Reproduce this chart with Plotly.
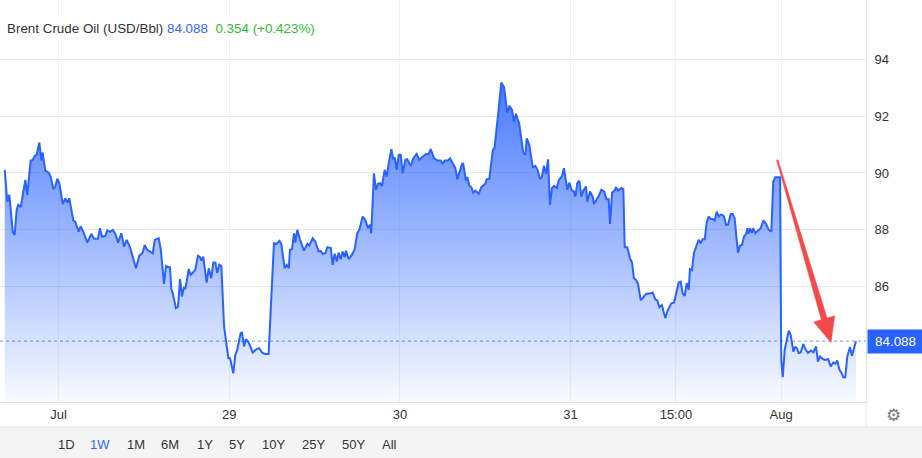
import plotly.graph_objects as go

# time in trading days from the "Jul" gridline; price in USD/Bbl
days = [-0.315, -0.300, -0.288, -0.268, -0.257, -0.245, -0.236, -0.221, -0.206, -0.194,
        -0.183, -0.163, -0.151, -0.139, -0.128, -0.112, -0.101, -0.093, -0.077, -0.057,
        -0.046, -0.030, -0.019, -0.007, 0.005, 0.025, 0.040, 0.052, 0.063, 0.087,
        0.098, 0.118, 0.130, 0.145, 0.169, 0.192, 0.208, 0.231, 0.243, 0.255,
        0.274, 0.286, 0.302, 0.318, 0.333, 0.349, 0.368, 0.384, 0.400, 0.419,
        0.454, 0.473, 0.493, 0.505, 0.517, 0.552, 0.564, 0.587, 0.599, 0.614,
        0.618, 0.630, 0.641, 0.653, 0.661, 0.669, 0.688, 0.700, 0.712, 0.723,
        0.735, 0.743, 0.763, 0.774, 0.801, 0.817, 0.829, 0.837, 0.848, 0.868,
        0.880, 0.895, 0.907, 0.919, 0.930, 0.942, 0.954,
        0.970, 0.995, 1.005, 1.024, 1.036, 1.047, 1.067, 1.075, 1.087, 1.098,
        1.114, 1.138, 1.161, 1.176, 1.192, 1.208, 1.231, 1.262, 1.278, 1.294,
        1.305, 1.325, 1.337, 1.349, 1.356, 1.368, 1.380, 1.387, 1.399, 1.415,
        1.438, 1.458, 1.469, 1.489, 1.504, 1.524, 1.536, 1.548, 1.563, 1.575,
        1.595, 1.606, 1.618, 1.630, 1.641, 1.653, 1.665, 1.677, 1.684, 1.700,
        1.719, 1.735, 1.750, 1.762, 1.782, 1.797, 1.813, 1.825, 1.832, 1.848,
        1.860, 1.872, 1.883, 1.895, 1.911, 1.923, 1.934, 1.950, 1.961, 1.970,
        1.981, 1.993, 2.005, 2.016, 2.032, 2.043, 2.063, 2.079, 2.098, 2.114,
        2.134, 2.153, 2.169, 2.180, 2.200, 2.219, 2.239, 2.251, 2.262, 2.282,
        2.294, 2.313, 2.325, 2.336, 2.348, 2.364, 2.371, 2.387, 2.395, 2.407,
        2.418, 2.430, 2.442, 2.453, 2.462, 2.477, 2.500, 2.508, 2.524, 2.544,
        2.555, 2.575, 2.594, 2.610, 2.629, 2.641, 2.657, 2.668, 2.680, 2.699,
        2.711, 2.723, 2.735, 2.743, 2.758, 2.778, 2.793, 2.805, 2.821, 2.832,
        2.844, 2.856, 2.868, 2.879, 2.891, 2.903, 2.919, 2.930, 2.950, 2.961,
        2.981, 2.992, 3.008, 3.020, 3.028, 3.039, 3.051, 3.063, 3.074, 3.090,
        3.098, 3.114, 3.129, 3.137, 3.153, 3.165, 3.180, 3.196, 3.211, 3.223,
        3.231, 3.243, 3.258, 3.266, 3.278, 3.297, 3.309, 3.317, 3.332, 3.348,
        3.360, 3.371, 3.383, 3.395, 3.411, 3.426, 3.442, 3.469, 3.481, 3.496,
        3.508, 3.520, 3.535, 3.547, 3.555, 3.566, 3.578, 3.590, 3.606, 3.622,
        3.633, 3.645, 3.657, 3.668, 3.680, 3.692, 3.699, 3.711, 3.723, 3.739,
        3.750, 3.762, 3.774, 3.786, 3.797, 3.809, 3.821, 3.832, 3.844, 3.856,
        3.868, 3.879, 3.887, 3.899, 3.910, 3.922, 3.938, 3.950, 3.961, 3.973,
        3.981, 3.992, 4.004, 4.016, 4.028, 4.035, 4.043, 4.051, 4.063, 4.070,
        4.082, 4.098, 4.114, 4.129, 4.145, 4.161, 4.176, 4.187, 4.199, 4.219,
        4.227, 4.234, 4.243, 4.254, 4.266, 4.278, 4.289, 4.305, 4.316, 4.328,
        4.336, 4.348, 4.363, 4.375, 4.391, 4.407, 4.422, 4.438, 4.449, 4.461,
        4.477, 4.492, 4.508, 4.515, 4.524, 4.539, 4.551, 4.562, 4.574, 4.586,
        4.598, 4.609, 4.621, 4.637, 4.648, 4.660, 4.672]

prices = [90.11, 88.99, 89.23, 87.94, 87.82, 88.70, 88.88, 88.80, 89.35, 89.76,
          89.23, 90.44, 90.46, 90.60, 90.64, 91.07, 90.44, 90.72, 90.08, 90.01,
          89.87, 89.43, 89.52, 89.80, 89.64, 88.91, 89.11, 88.96, 89.11, 88.33,
          88.29, 87.94, 88.12, 87.94, 87.55, 87.86, 87.69, 87.69, 88.06, 87.76,
          87.79, 87.98, 87.93, 88.00, 87.86, 87.55, 87.88, 87.41, 87.65, 87.39,
          86.65, 87.09, 87.20, 87.47, 87.32, 87.18, 87.65, 87.71, 87.32, 86.27,
          86.10, 86.73, 86.69, 86.69, 85.92, 85.78, 85.25, 85.30, 86.27, 85.66,
          85.99, 85.92, 86.62, 86.42, 86.59, 87.09, 87.04, 86.92, 87.06, 86.15,
          86.65, 86.30, 86.85, 86.85, 86.48, 86.78, 86.73,
          84.60, 83.49, 83.49, 82.96, 83.61, 83.78, 84.37, 84.39, 83.90, 84.16,
          84.04, 83.69, 83.81, 83.84, 83.69, 83.64, 83.64, 87.53, 87.51, 87.61,
          87.51, 86.65, 86.77, 86.65, 87.30, 87.32, 87.88, 87.55, 88.00, 87.65,
          87.27, 87.51, 87.44, 87.71, 87.59, 87.24, 87.26, 87.16, 87.18, 87.39,
          87.36, 86.77, 87.16, 86.89, 87.20, 86.97, 87.24, 87.04, 87.27, 86.97,
          87.12, 87.32, 87.88, 88.00, 88.47, 88.35, 88.06, 88.18, 87.88, 89.99,
          89.41, 89.62, 89.64, 89.55, 90.11, 89.87, 90.32, 90.84, 90.48, 90.55,
          90.11, 90.64, 90.64, 89.99, 90.46, 90.48, 90.25, 90.52, 90.67, 90.46,
          90.58, 90.67, 90.67, 90.84, 90.52, 90.44, 90.44, 90.32, 90.44, 90.44,
          90.51, 90.32, 90.17, 89.78, 90.05, 90.32, 90.32, 89.73, 89.85, 89.55,
          89.50, 89.31, 89.38, 89.31, 89.27, 89.50, 89.62, 89.78, 89.80, 90.79,
          90.91, 92.04, 93.18, 93.02, 92.12, 92.36, 92.22, 91.81, 92.08, 91.73,
          91.16, 90.70, 90.64, 91.22, 90.99, 90.20, 90.25, 90.13, 89.78, 89.87,
          90.25, 89.97, 90.48, 88.88, 89.47, 89.55, 89.47, 89.73, 89.90, 90.17,
          89.41, 89.66, 89.38, 89.35, 89.17, 89.64, 89.73, 89.17, 89.38, 89.52,
          88.99, 89.35, 89.17, 88.91, 89.08, 89.19, 89.41, 89.35, 89.08, 89.08,
          88.21, 89.31, 89.38, 89.50, 89.38, 89.47, 89.43, 87.39, 87.39, 87.00,
          86.85, 86.30, 86.24, 86.10, 85.52, 85.63, 85.75, 85.77, 85.80, 85.56,
          85.52, 85.28, 85.36, 85.07, 84.90, 85.13, 85.30, 85.42, 85.44, 85.80,
          86.15, 86.18, 85.75, 85.68, 86.13, 85.89, 86.62, 86.59, 87.20, 87.47,
          87.65, 87.53, 87.67, 87.67, 88.26, 88.47, 88.38, 88.38, 88.33, 88.64,
          88.47, 88.53, 88.53, 88.47, 88.18, 88.18, 88.56, 88.56, 88.41, 87.65,
          87.20, 87.44, 87.47, 87.76, 87.86, 88.06, 87.86, 88.06, 87.90, 88.06,
          87.88, 87.98, 88.06, 88.33, 88.21, 88.00, 87.94, 89.70, 89.85, 89.85,
          89.85, 83.43, 82.82, 83.78, 84.13, 84.46, 84.31, 83.72, 83.90, 83.81,
          83.67, 83.69, 83.99, 83.81, 83.67, 83.76, 83.69, 83.90, 83.37, 83.55,
          83.46, 83.43, 83.46, 83.31, 83.20, 83.34, 83.29, 83.41, 83.10, 82.98,
          82.82, 82.82, 83.55, 83.88, 83.57, 83.84, 84.088]

x_tick_vals = [0, 1, 2, 3, 3.617, 4.233]
x_tick_text = ["Jul", "29", "30", "31", "15:00", "Aug"]
y_tick_vals = [86, 88, 90, 92, 94]
range_buttons = ["1D", "1W", "1M", "6M", "1Y", "5Y", "10Y", "25Y", "50Y", "All"]
button_px = [66, 100, 136, 170, 205, 237, 273, 313, 353, 389]

last_price = prices[-1]
change = 0.354
change_pct = 0.423

BLUE = "#2962ff"
FONT = "Liberation Sans, Arial, sans-serif"
W, H = 922, 458
ML, MR, MT, MB = 0, 56, 0, 56
PW, PH = W - ML - MR, H - MT - MB
X_RANGE = [-0.3427, 4.7305]
Y_RANGE = [81.95, 96.08]

def px_x(p):
    return p / PW

def px_y(p):
    return (PH - p) / PH

fig = go.Figure()
fig.add_trace(go.Scatter(
    x=days, y=prices, mode="lines",
    line=dict(color=BLUE, width=2),
    fill="tozeroy",
    fillgradient=dict(type="vertical",
                      colorscale=[[0, "rgba(41,98,255,0.03)"], [1, "rgba(41,98,255,0.85)"]],
                      start=Y_RANGE[0], stop=max(prices)),
    hoverinfo="skip", showlegend=False,
))

shapes = [
    # last price dotted line
    dict(type="line", xref="paper", yref="y", x0=0, x1=1, y0=last_price, y1=last_price,
         line=dict(color="rgba(41,98,255,0.55)", width=1.2, dash="dot"), layer="above"),
    # bottom grey band
    dict(type="rect", xref="paper", yref="paper", x0=-0.01, x1=1.1,
         y0=px_y(458), y1=px_y(427), fillcolor="#f4f4f4", line=dict(width=0), layer="below"),
    dict(type="line", xref="paper", yref="paper", x0=-0.01, x1=1.1, y0=px_y(427), y1=px_y(427),
         line=dict(color="#e4e4e4", width=1)),
    # separator next to gear
    dict(type="line", xref="paper", yref="paper", x0=1, x1=1, y0=0, y1=px_y(427),
         line=dict(color="#e6e6e6", width=1)),
    # red arrow (annotation)
    dict(type="path", xref="x", yref="y",
         path="M 4.2068,90.453 L 4.2150,90.467 L 4.5026,84.900 L 4.5472,84.980 "
              "L 4.5255,84.038 L 4.4241,84.762 L 4.4687,84.840 Z",
         fillcolor="#f44a4a", line=dict(color="#f44a4a", width=0.5), layer="above"),
]

annotations = [
    dict(xref="paper", yref="paper", x=px_x(3), y=px_y(28), xanchor="left", yanchor="middle",
         showarrow=False, bgcolor="white", borderpad=3,
         text=("Brent Crude Oil (USD/Bbl) "
               f"<span style='color:#3366ff'>{last_price:.3f}</span>  "
               f"<span style='color:#33bb33'>{change:.3f} (+{change_pct:.3f}%)</span>"),
         font=dict(family=FONT, size=13.4, color="#333333")),
    dict(xref="paper", yref="y", x=1, y=last_price, xanchor="left", yanchor="middle",
         showarrow=False, bgcolor=BLUE, borderpad=0, xshift=1, width=55, height=23,
         align="center",
         text=f"{last_price:.3f}", font=dict(family=FONT, size=13.4, color="white")),
    dict(xref="paper", yref="paper", x=px_x(893), y=px_y(415), xanchor="center", yanchor="middle",
         showarrow=False, text="⚙", font=dict(family="DejaVu Sans", size=17, color="#777777")),
]
for lbl, p in zip(range_buttons, button_px):
    annotations.append(dict(
        xref="paper", yref="paper", x=px_x(p), y=px_y(445), xanchor="center", yanchor="middle",
        showarrow=False, text=lbl,
        font=dict(family=FONT, size=13, color=("#3366ff" if lbl == "1W" else "#333333"))))

fig.update_layout(
    width=W, height=H,
    margin=dict(l=ML, r=MR, t=MT, b=MB, pad=0),
    paper_bgcolor="white", plot_bgcolor="white",
    showlegend=False, hovermode=False,
    shapes=shapes, annotations=annotations,
    xaxis=dict(range=X_RANGE, tickvals=x_tick_vals, ticktext=x_tick_text,
               showgrid=True, gridcolor="#edf1f5", gridwidth=1,
               showline=True, linecolor="#e2e2e2", linewidth=1, mirror=False,
               zeroline=False, ticks="", fixedrange=True,
               tickfont=dict(family=FONT, size=13, color="#333333")),
    yaxis=dict(range=Y_RANGE, tickvals=y_tick_vals, side="right",
               showgrid=True, gridcolor="#e8e8e8", gridwidth=1,
               showline=True, linecolor="#e6e6e6", linewidth=1,
               zeroline=False, ticks="outside", ticklen=5, tickcolor="rgba(0,0,0,0)",
               fixedrange=True,
               tickfont=dict(family=FONT, size=13, color="#333333")),
    font=dict(family=FONT),
)

fig.write_html("out.html", config={"displayModeBar": False},
               post_script="document.body.style.margin='0';document.body.style.padding='0';")
